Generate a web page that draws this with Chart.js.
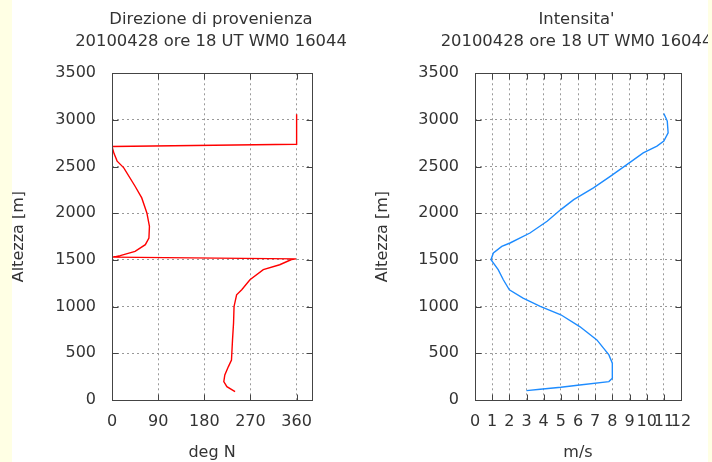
<!DOCTYPE html>
<html>
<head>
<meta charset="utf-8">
<script src="https://cdn.jsdelivr.net/npm/chart.js@4/dist/chart.umd.min.js"></script>
<style>
    body { margin: 0; width: 712px; height: 462px; overflow: hidden; background: #fff; position: relative; }
    .box { position: absolute; top: 0; height: 462px; }
    #leftBox { left: 0; width: 422px; }
    #rightBox { left: 364px; width: 425px; }
    .strip { position: absolute; top: 0; height: 462px; background: #ffffe4; z-index: 5; }
</style>
</head>
<body>
<div class="box" id="leftBox"><canvas id="dirChart"></canvas></div>
<div class="box" id="rightBox"><canvas id="speedChart"></canvas></div>
<div class="strip" style="left:0;width:12px"></div>
<div class="strip" style="left:708px;width:4px"></div>
<script>
// Direzione di provenienza (gradi) in funzione della quota (m)
const dirDeg = [240, 224, 218, 220, 227, 233, 235, 237, 238, 243, 253, 269, 295, 327, 350, 359,
    2, 16, 45, 65, 72, 73, 68, 58, 45, 23, 10, 4, 0, 359, 360, 360];
const dirHeight = [89, 143, 197, 268, 358, 429, 644, 823, 1002, 1127, 1181, 1288, 1396, 1449, 1505, 1512,
    1530, 1546, 1592, 1664, 1736, 1861, 2004, 2165, 2290, 2487, 2559, 2640, 2715, 2740, 2800, 3060];

// Intensita' (m/s) in funzione della quota (m)
const speedMs = [3.0, 3.8, 5.0, 6.1, 7.8, 8.0, 8.0, 7.8, 7.1, 6.1, 5.0, 3.8, 2.8, 2.0, 1.65, 1.35, 0.93,
    1.07, 1.56, 2.04, 3.2, 4.2, 5.0, 5.75, 6.9, 7.9, 9.05, 9.8, 10.6, 11.0, 11.25, 11.2, 11.0];
const speedHeight = [100, 115, 136, 161, 197, 233, 394, 483, 644, 787, 913, 1002, 1092, 1181, 1288, 1396, 1503,
    1575, 1646, 1682, 1789, 1915, 2040, 2147, 2272, 2398, 2548, 2648, 2720, 2774, 2863, 2988, 3070];

// etichette degli assi
const heightTicks = [0, 500, 1000, 1500, 2000, 2500, 3000, 3500];
const dirTicks = [0, 90, 180, 270, 360];
const speedTicks = [0, 1, 2, 3, 4, 5, 6, 7, 8, 9, 10, 11, 12];
const subtitle = '20100428 ore 18 UT WM0 16044';

const FONT = 'DejaVu Sans';
const TEXT = '#333';

// cornice e tacche interne stile gnuplot
const framePlugin = {
    id: 'frame',
    afterDatasetsDraw(chart) {
        const { ctx, chartArea: a, scales: { x, y } } = chart;
        const l = Math.round(a.left) + 0.5, r = Math.round(a.right) + 0.5;
        const t = Math.round(a.top) + 0.5, b = Math.round(a.bottom) + 0.5;
        ctx.save();
        ctx.strokeStyle = '#444';
        ctx.lineWidth = 1;
        ctx.beginPath();
        x.ticks.forEach(tk => {
            const px = Math.round(x.getPixelForValue(tk.value)) + 0.5;
            ctx.moveTo(px, b); ctx.lineTo(px, b - 6);
            ctx.moveTo(px, t); ctx.lineTo(px, t + 6);
        });
        y.ticks.forEach(tk => {
            const py = Math.round(y.getPixelForValue(tk.value)) + 0.5;
            ctx.moveTo(l, py); ctx.lineTo(l + 6, py);
            ctx.moveTo(r, py); ctx.lineTo(r - 6, py);
        });
        ctx.stroke();
        ctx.strokeRect(l, t, r - l, b - t);
        ctx.restore();
    }
};

function makeChart(id, xs, ys, color, xMax, xTicks, titleText, xTitle, yWidth, rightSpace) {
    const points = xs.map((v, i) => ({ x: v, y: ys[i] }));
    return new Chart(document.getElementById(id), {
        type: 'scatter',
        data: {
            datasets: [{
                data: points,
                showLine: true,
                borderColor: color,
                borderWidth: 1.4,
                pointRadius: 0,
                tension: 0
            }]
        },
        options: {
            responsive: true,
            maintainAspectRatio: false,
            animation: false,
            layout: { padding: 0 },
            plugins: {
                legend: { display: false },
                tooltip: { enabled: false },
                title: {
                    display: true,
                    text: [titleText, subtitle],
                    color: TEXT,
                    font: { family: FONT, size: 16.4, weight: 'normal', lineHeight: 1.32 },
                    padding: { top: 9, bottom: 21 }
                }
            },
            scales: {
                x: {
                    type: 'linear',
                    min: 0,
                    max: xMax,
                    afterBuildTicks: s => { s.ticks = xTicks.map(v => ({ value: v })); },
                    afterFit: s => { s.height = 62; },
                    grid: { color: '#999', drawTicks: false },
                    border: { display: false, dash: [2, 3] },
                    ticks: { color: TEXT, font: { family: FONT, size: 16 }, padding: 12, autoSkip: false, maxRotation: 0,
                        callback: v => String(v) },
                    title: { display: true, text: xTitle, color: TEXT, font: { family: FONT, size: 16 }, padding: { top: 0, bottom: 0 } }
                },
                y: {
                    type: 'linear',
                    min: 0,
                    max: 3500,
                    afterBuildTicks: s => { s.ticks = heightTicks.map(v => ({ value: v })); },
                    afterFit: s => { s.width = yWidth; },
                    grid: { color: '#999', drawTicks: false },
                    border: { display: false, dash: [2, 3] },
                    ticks: { color: TEXT, font: { family: FONT, size: 16 }, padding: 16, callback: v => String(v) },
                    title: { display: true, text: 'Altezza [m]', color: TEXT, font: { family: FONT, size: 16 }, padding: { top: 9, bottom: 0 } }
                },
                // asse vuoto: solo spazio a destra del riquadro
                spacer: {
                    type: 'linear',
                    position: 'right',
                    afterFit: s => { s.width = rightSpace; },
                    grid: { display: false },
                    border: { display: false },
                    ticks: { display: false }
                }
            }
        },
        plugins: [framePlugin]
    });
}

makeChart('dirChart', dirDeg, dirHeight, '#ff0000', 390, dirTicks,
    'Direzione di provenienza', 'deg N', 112, 110);
makeChart('speedChart', speedMs, speedHeight, '#1e8cff', 12, speedTicks,
    "Intensita'", 'm/s', 111, 108);
</script>
</body>
</html>
